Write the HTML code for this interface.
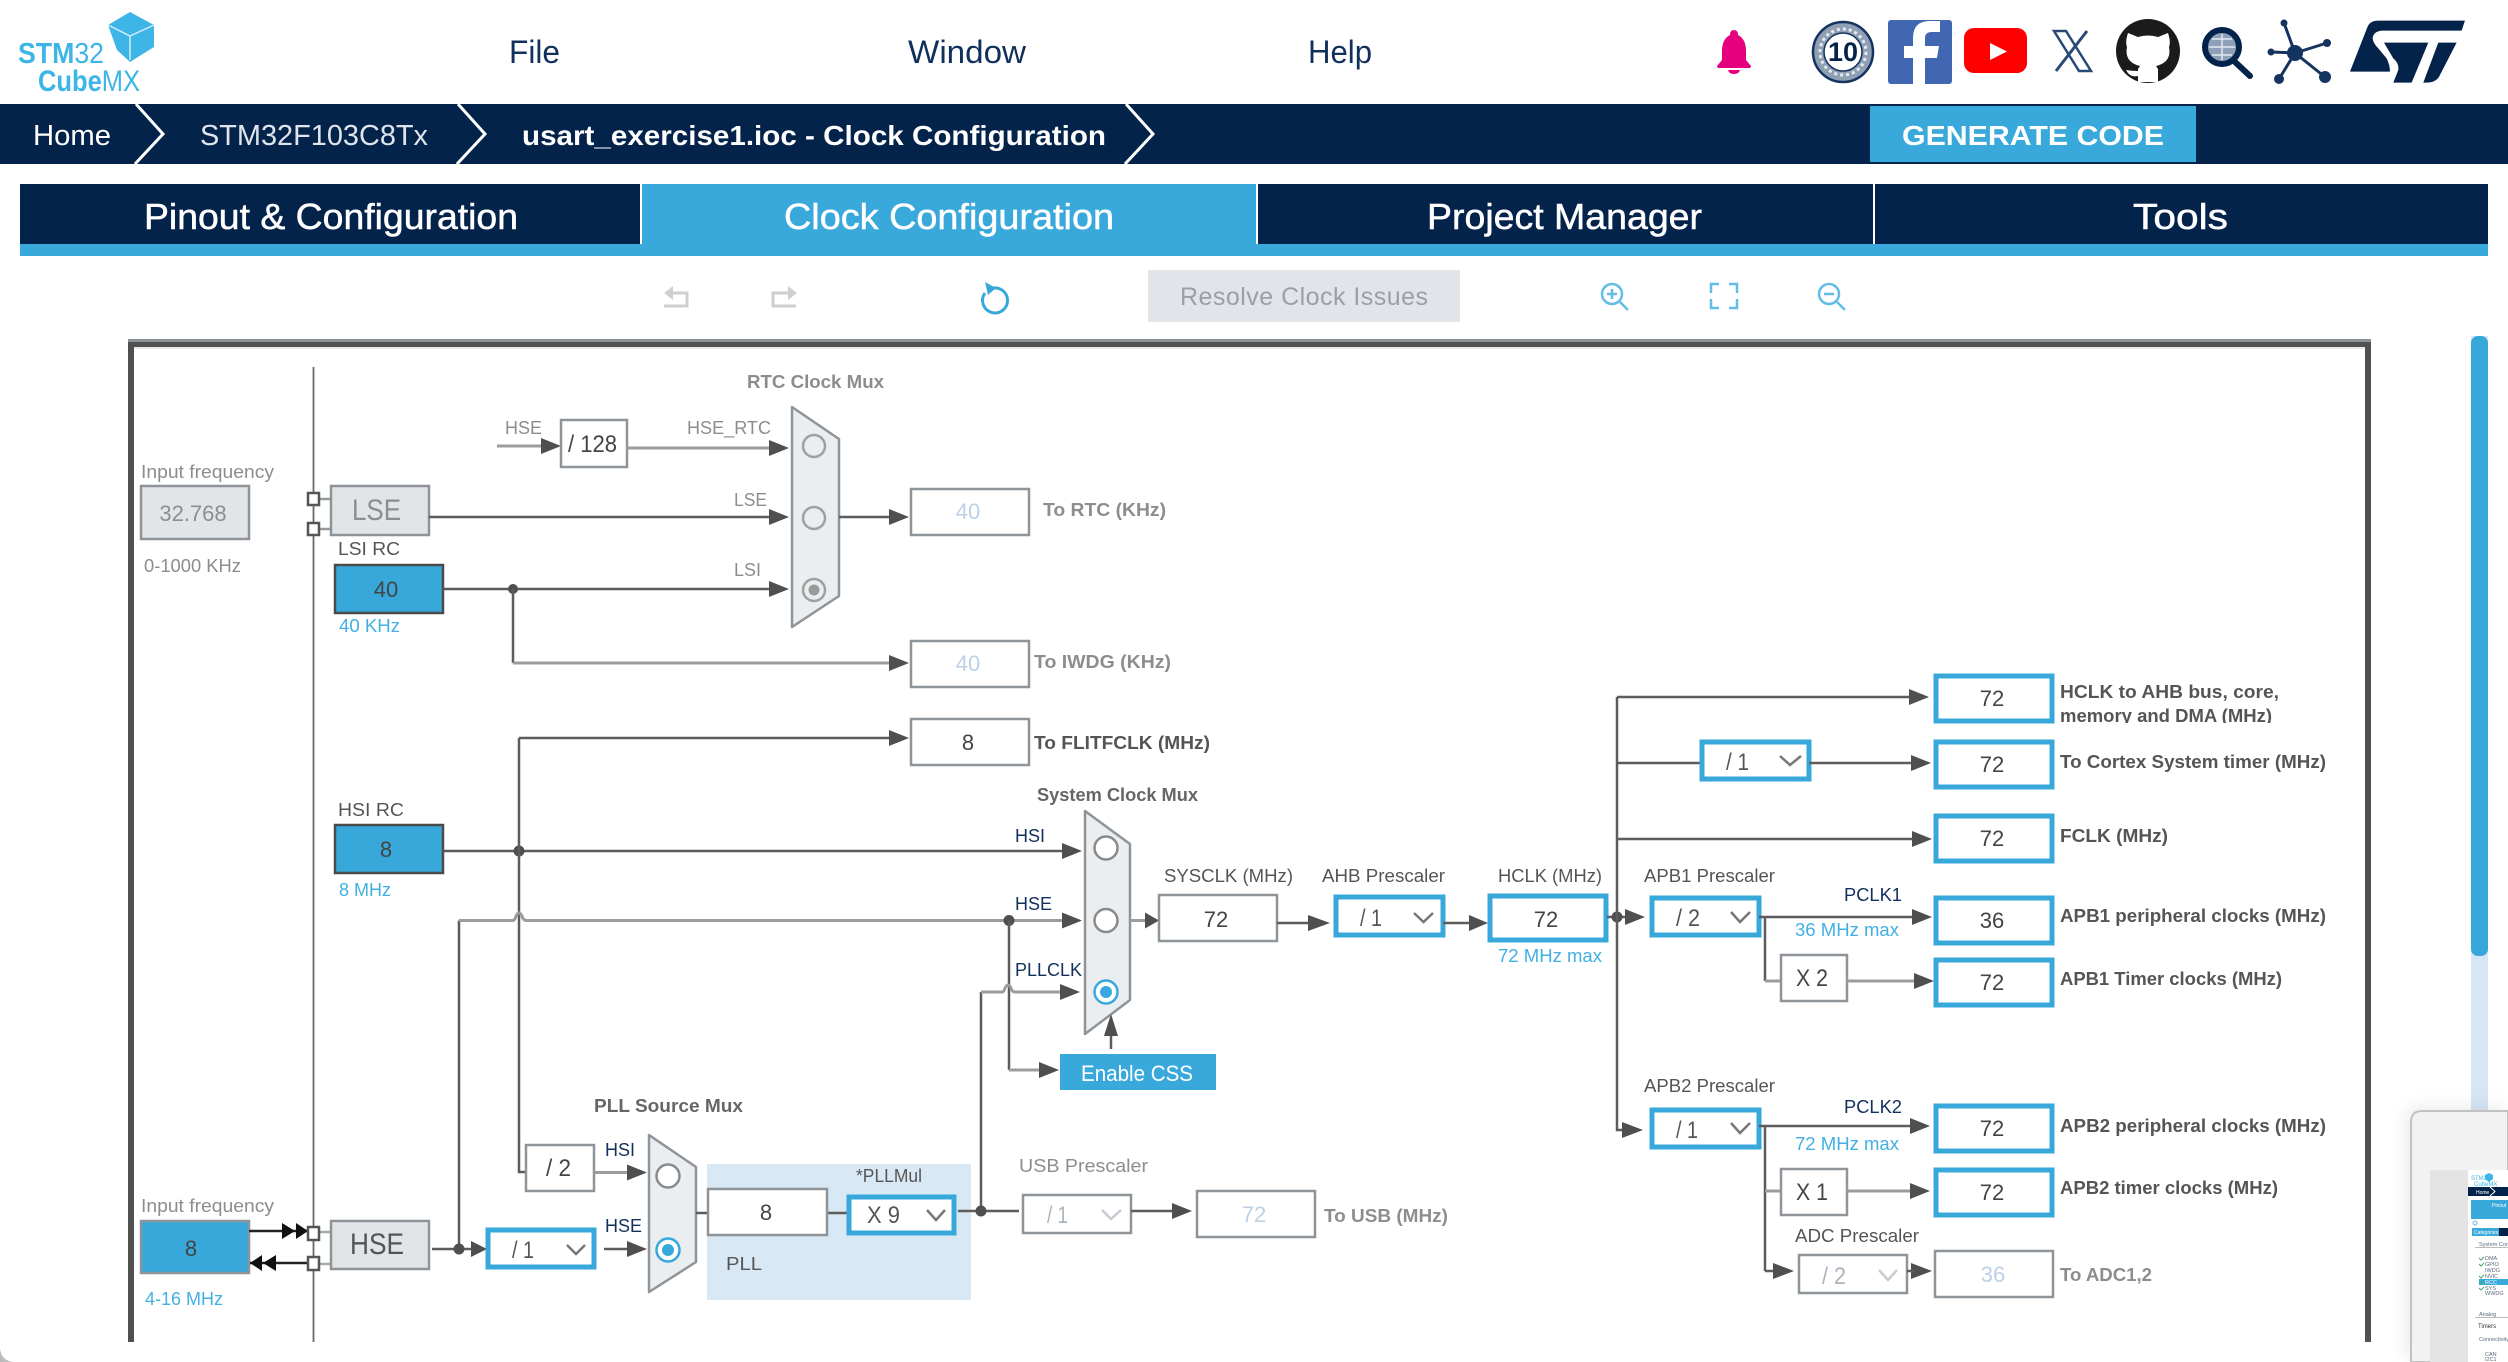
<!DOCTYPE html>
<html lang="en"><head><meta charset="utf-8"><title>STM32CubeMX Clock Configuration</title>
<style>
html,body{margin:0;padding:0;background:#fff;width:2508px;height:1362px;overflow:hidden}
svg{display:block;position:absolute;left:0;top:0}
text{font-family:"Liberation Sans",Arial,sans-serif}
.l{fill:none;stroke:#5c5c5c;stroke-width:2.5}
.g{fill:none;stroke:#9c9c9c;stroke-width:3}
.a{fill:#4f4f4f}
.k{fill:#101010}
.j{fill:#4f4f4f}
.bx{fill:#fff;stroke:#8f9499;stroke-width:2.5}
.sel{fill:#fff;stroke:#38a8db;stroke-width:5}
.ch{fill:none;stroke:#777;stroke-width:2.5}
.chl{fill:none;stroke:#c6ccd2;stroke-width:2.5}
.gr{fill:#e2e5e8;stroke:#8f9499;stroke-width:2.5}
.bl{fill:#38a8db;stroke:#4a4a4a;stroke-width:2.5}
.mux{fill:#ebeef1;stroke:#8f9499;stroke-width:2.5;stroke-linejoin:round}
.r{fill:#fff;stroke:#8a8a8a;stroke-width:2.5}
.rb{fill:#fff;stroke:#38a8db;stroke-width:2.5}
.lb{font-size:18px;fill:#8d8d8d}
.lk{font-size:18px;fill:#555}
.lb2{font-size:18px;fill:#8d8d8d;font-weight:700}
.lk2{font-size:18px;fill:#555;font-weight:700}
.nv{font-size:18px;fill:#12305c}
.bt{font-size:18px;fill:#42b0e2}
.v{font-size:22px;fill:#444;text-anchor:middle}
.vl{font-size:22px;fill:#bcd0e6;text-anchor:middle}
.vg{font-size:22px;fill:#8d8d8d;text-anchor:middle}
.s{font-size:24px;fill:#555}
.sl{font-size:24px;fill:#aab4bd}
.m{font-size:5.5px;fill:#5a6b80}
.tb{font-size:36px;fill:#fff;stroke:#fff;stroke-width:.5}
</style></head><body>
<svg width="2508" height="1362" viewBox="0 0 2508 1362" xmlns="http://www.w3.org/2000/svg">
<rect width="2508" height="1362" fill="#fff"/>

<!-- logo -->
<polygon points="130,12 154,25 154,47 130,62 117,50 108,25" fill="#3db5e6"/>
<path d="M108,25 L130,36 L154,25 M130,36 L130,60" fill="none" stroke="#cfeefa" stroke-width="1.5"/>
<text x="18" y="63" textLength="86" lengthAdjust="spacingAndGlyphs" font-size="29" fill="#3db5e6"><tspan font-weight="700">STM</tspan>32</text>
<text x="38" y="91" textLength="102" lengthAdjust="spacingAndGlyphs" font-size="30" fill="#3db5e6"><tspan font-weight="700">Cube</tspan>MX</text>

<!-- menu -->
<text x="509" y="63" textLength="51" lengthAdjust="spacingAndGlyphs" font-size="32" fill="#12305c">File</text>
<text x="908" y="63" textLength="118" lengthAdjust="spacingAndGlyphs" font-size="32" fill="#12305c">Window</text>
<text x="1308" y="63" textLength="64" lengthAdjust="spacingAndGlyphs" font-size="32" fill="#12305c">Help</text>

<!-- header icons -->
<path d="M1734,30 q4,0 4,5 q8,4 8,16 l0,9 l5,6 q0,2 -2,2 l-30,0 q-2,0 -2,-2 l5,-6 l0,-9 q0,-12 8,-16 q0,-5 4,-5z M1728,70 h12 q-1,4 -6,4 q-5,0 -6,-4z" fill="#e6007e"/>
<circle cx="1843" cy="52" r="30" fill="#8fa0b5" stroke="#14335f" stroke-width="2.5"/>
<circle cx="1843" cy="52" r="23" fill="none" stroke="#e7ebf0" stroke-width="3" stroke-dasharray="3 3"/>
<circle cx="1843" cy="52" r="19" fill="#fff" stroke="#14335f" stroke-width="1.5"/>
<text x="1843" y="61" text-anchor="middle" font-size="27" font-weight="700" fill="#04234b">10</text>
<rect x="1888" y="20" width="64" height="64" rx="3" fill="#4267b2"/>
<path d="M1925,84 V58 H1937 L1939,46 H1925 V38 Q1925,32 1932,32 H1940 V21 H1930 Q1913,21 1913,38 V46 H1904 V58 H1913 V84 Z" fill="#fff"/>
<rect x="1964" y="28" width="63" height="45" rx="10" fill="#ff0000"/>
<polygon points="1990,43 2007,51.5 1990,60" fill="#fff"/>
<path d="M2054,31 H2066 L2091,71 H2079 Z" fill="#fff" stroke="#2a4a75" stroke-width="2.5"/>
<path d="M2087,31 L2056,71" fill="none" stroke="#2a4a75" stroke-width="3"/>
<circle cx="2148" cy="51" r="32" fill="#1b1b1b"/>
<path d="M2128,33 L2138,37 Q2148,34 2158,37 L2168,33 Q2171,42 2169,47 Q2172,62 2156,66 L2158,69 V82 H2138 V76 Q2130,78 2126,70 Q2132,71 2138,71 L2138,69 L2140,66 Q2124,62 2127,47 Q2125,42 2128,33Z" fill="#fff"/>
<circle cx="2222" cy="47" r="17" fill="#8ea0b8" stroke="#04234b" stroke-width="6"/>
<path d="M2209,47 H2235 M2222,34 V60 M2212,39 H2232 M2212,55 H2232" stroke="#e4e9ef" stroke-width="1.5" fill="none"/>
<path d="M2234,61 L2250,76" stroke="#04234b" stroke-width="6" stroke-linecap="round"/>
<g stroke="#14335f" stroke-width="3"><path d="M2295,53 L2284,23 M2295,53 L2327,43 M2295,53 L2271,52 M2295,53 L2325,77 M2295,53 L2279,79"/></g>
<g fill="#14335f"><circle cx="2295" cy="53" r="8"/><circle cx="2284" cy="23" r="3.5"/><circle cx="2327" cy="43" r="4"/><circle cx="2271" cy="52" r="3.5"/><circle cx="2325" cy="77" r="6"/><circle cx="2279" cy="79" r="5"/></g>
<g transform="translate(2010,10) scale(.3333)" fill="#04234b">
<path d="M1020,185 L1072,52 Q1080,32 1105,32 L1365,32 L1355,62 L1115,62 Q1090,65 1088,85 Q1090,100 1105,115 L1130,145 Q1140,165 1140,185 Z"/>
<path d="M1122,98 L1255,98 L1205,218 L1150,218 L1165,180 Q1168,160 1150,145 Z"/>
<path d="M1285,98 L1340,98 L1290,195 Q1280,218 1250,218 L1240,218 Z"/>
</g>

<!-- breadcrumb -->
<rect x="0" y="104" width="2508" height="60" fill="#04234b"/>
<path d="M136,104 L163,134 L135,164 M458,104 L485,134 L457,164 M1126,104 L1153,134 L1125,164" fill="none" stroke="#fff" stroke-width="3"/>
<text x="33" y="145" textLength="78" lengthAdjust="spacingAndGlyphs" font-size="29" fill="#fff">Home</text>
<text x="200" y="145" textLength="228" lengthAdjust="spacingAndGlyphs" font-size="29" fill="#dfe5ec">STM32F103C8Tx</text>
<text x="522" y="145" textLength="584" lengthAdjust="spacingAndGlyphs" font-size="28" font-weight="700" fill="#fff">usart_exercise1.ioc - Clock Configuration</text>
<rect x="1870" y="106" width="326" height="56" fill="#39a9dc"/>
<text x="1902" y="145" textLength="262" lengthAdjust="spacingAndGlyphs" font-size="28" font-weight="700" fill="#fff">GENERATE CODE</text>

<!-- tabs -->
<rect x="20" y="184" width="2468" height="60" fill="#04234b"/>
<rect x="20" y="244" width="2468" height="12" fill="#39a9dc"/>
<rect x="642" y="184" width="614" height="60" fill="#39a9dc"/>
<rect x="640" y="184" width="2" height="60" fill="#fff"/><rect x="1256" y="184" width="2" height="60" fill="#fff"/><rect x="1873" y="184" width="2" height="60" fill="#fff"/>
<text x="144" y="229" textLength="374" lengthAdjust="spacingAndGlyphs" class="tb">Pinout &amp; Configuration</text>
<text x="784" y="229" textLength="330" lengthAdjust="spacingAndGlyphs" class="tb">Clock Configuration</text>
<text x="1427" y="229" textLength="275" lengthAdjust="spacingAndGlyphs" class="tb">Project Manager</text>
<text x="2133" y="229" textLength="95" lengthAdjust="spacingAndGlyphs" class="tb">Tools</text>

<!-- toolbar -->
<path d="M670,293 H687 V306 H664" fill="none" stroke="#cfcfcf" stroke-width="3"/><polygon points="664,293 673,286 673,300" fill="#cfcfcf"/>
<path d="M790,293 H773 V306 H796" fill="none" stroke="#cfcfcf" stroke-width="3"/><polygon points="797,293 788,286 788,300" fill="#cfcfcf"/>
<path d="M990,289 A12.5,12.5 0 1 1 985,293" fill="none" stroke="#38a8db" stroke-width="3"/><polygon points="985,282 996,288 988,295" fill="#38a8db"/>
<rect x="1148" y="270" width="312" height="52" fill="#e1e4e8"/>
<text x="1180" y="305" textLength="248" lengthAdjust="spacing" font-size="25" fill="#9aa0a6">Resolve Clock Issues</text>
<g fill="none" stroke="#62bde6" stroke-width="2.5">
<circle cx="1612" cy="294" r="10"/><path d="M1620,302 L1628,310 M1607,294 H1617 M1612,289 V299"/>
<path d="M1711,293 V284 H1719 M1729,284 H1737 V293 M1737,299 V308 H1729 M1719,308 H1711 V299"/>
<circle cx="1829" cy="294" r="10"/><path d="M1837,302 L1845,310 M1824,294 H1834"/>
</g>

<!-- frame -->
<rect x="128" y="339" width="2243" height="3" fill="#8c9296"/>
<rect x="128" y="342" width="2243" height="5" fill="#4f5355"/>
<rect x="134" y="347" width="2231" height="2" fill="#e9e9e9"/>
<rect x="128" y="342" width="6" height="1000" fill="#505050"/>
<rect x="2365" y="342" width="6" height="1000" fill="#505050"/>
<path d="M313.5,367 V1342" stroke="#6a6a6a" stroke-width="1.8" fill="none"/>

<!-- scrollbar -->
<rect x="2471" y="336" width="17" height="780" fill="#d6e6f5"/>
<rect x="2471" y="336" width="17" height="620" rx="7" fill="#38a8db"/>

<!-- left column -->
<text x="141" y="478" textLength="133" lengthAdjust="spacingAndGlyphs" class="lb">Input frequency</text>
<rect x="141" y="486" width="108" height="53" class="gr"/>
<text x="193" y="521" class="vg">32.768</text>
<text x="144" y="572" textLength="97" lengthAdjust="spacingAndGlyphs" class="lb">0-1000 KHz</text>
<path d="M319,499 H331 M319,529 H331" stroke="#999" stroke-width="2.5"/>
<rect x="308" y="493" width="11" height="12" class="bx" style="stroke:#555"/>
<rect x="308" y="523" width="11" height="12" class="bx" style="stroke:#555"/>
<rect x="331" y="486" width="98" height="49" class="gr"/>
<text x="352" y="520" textLength="49" lengthAdjust="spacingAndGlyphs" font-size="30" fill="#8d8d8d">LSE</text>
<text x="338" y="555" textLength="62" lengthAdjust="spacingAndGlyphs" class="lk">LSI RC</text>
<rect x="335" y="565" width="108" height="48" class="bl"/>
<text x="386" y="597" class="v">40</text>
<text x="339" y="632" textLength="61" lengthAdjust="spacingAndGlyphs" class="bt">40 KHz</text>

<!-- RTC section -->
<text x="505" y="434" textLength="37" lengthAdjust="spacingAndGlyphs" class="lb">HSE</text>
<path d="M497,446 H545" class="g"/><polygon points="541,438 561,446 541,454" class="a"/>
<rect x="561" y="420" width="66" height="47" class="bx"/>
<text x="568" y="452" textLength="49" lengthAdjust="spacingAndGlyphs" font-size="24" fill="#444">/ 128</text>
<path d="M627,448 H772" class="g"/><polygon points="769,440 789,448 769,456" class="a"/>
<text x="687" y="434" textLength="84" lengthAdjust="spacingAndGlyphs" class="lb">HSE_RTC</text>
<text x="747" y="388" textLength="137" lengthAdjust="spacingAndGlyphs" class="lb2">RTC Clock Mux</text>
<polygon points="792,407 839,439 839,596 792,627" class="mux"/>
<circle cx="814" cy="446" r="11" class="r" style="fill:#ebeef1;stroke:#a0a0a0"/>
<circle cx="814" cy="518" r="11" class="r" style="fill:#ebeef1;stroke:#a0a0a0"/>
<circle cx="814" cy="590" r="11" class="r" style="fill:#ebeef1;stroke:#a0a0a0"/><circle cx="814" cy="590" r="5.5" fill="#9a9a9a"/>
<path d="M429,517 H772" class="l"/><polygon points="769,509 789,517 769,525" class="a"/>
<text x="734" y="506" textLength="33" lengthAdjust="spacingAndGlyphs" class="lb">LSE</text>
<path d="M443,589 H772" class="l"/><polygon points="769,581 789,589 769,597" class="a"/>
<text x="734" y="576" textLength="27" lengthAdjust="spacingAndGlyphs" class="lb">LSI</text>
<circle cx="513" cy="589" r="5" class="j"/>
<path d="M513,589 V663" class="l"/><path d="M513,663 H892" class="g"/><polygon points="889,655 909,663 889,671" class="a"/>
<path d="M839,517 H892" class="l"/><polygon points="889,509 909,517 889,525" class="a"/>
<rect x="911" y="489" width="118" height="46" class="bx"/><text x="968" y="519" class="vl">40</text>
<text x="1043" y="516" textLength="123" lengthAdjust="spacingAndGlyphs" class="lb2">To RTC (KHz)</text>
<rect x="911" y="641" width="118" height="46" class="bx"/><text x="968" y="671" class="vl">40</text>
<text x="1034" y="668" textLength="137" lengthAdjust="spacingAndGlyphs" class="lb2">To IWDG (KHz)</text>
<rect x="911" y="719" width="118" height="46" class="bx"/><text x="968" y="750" class="v">8</text>
<text x="1034" y="749" textLength="176" lengthAdjust="spacingAndGlyphs" class="lk2">To FLITFCLK (MHz)</text>
<path d="M519,738 H892" class="l"/><polygon points="889,730 909,738 889,746" class="a"/>

<!-- HSI -->
<text x="338" y="816" textLength="66" lengthAdjust="spacingAndGlyphs" class="lk">HSI RC</text>
<rect x="335" y="825" width="108" height="48" class="bl"/>
<text x="386" y="857" class="v">8</text>
<text x="339" y="896" textLength="52" lengthAdjust="spacingAndGlyphs" class="bt">8 MHz</text>
<path d="M443,851 H1065" class="l"/><polygon points="1062,843 1082,851 1062,859" class="a"/>
<circle cx="519" cy="851" r="5.5" class="j"/>
<path d="M519,738 V1172 H528" class="l"/>
<!-- HSE bus -->
<path d="M459,1249 V920.5" class="l"/>
<path d="M459,920.5 H513 Q515,920 516,916 Q519,910 522,916 Q523,920 526,920.5 H1065" class="g"/>
<polygon points="1062,912.5 1082,920.5 1062,928.5" class="a"/>
<circle cx="1009" cy="920.5" r="5.5" class="j"/>
<path d="M1009,920.5 V1070" class="l"/>
<path d="M1009,1070 H1042" class="g"/><polygon points="1039,1062 1059,1070 1039,1078" class="a"/>
<rect x="1060" y="1054" width="156" height="36" fill="#39a9dc"/>
<text x="1081" y="1081" textLength="112" lengthAdjust="spacingAndGlyphs" font-size="22" fill="#fff">Enable CSS</text>
<path d="M1111,1049 V1032" class="l"/>

<!-- system mux -->
<text x="1037" y="801" textLength="161" lengthAdjust="spacingAndGlyphs" class="lk" style="font-weight:700;fill:#666">System Clock Mux</text>
<polygon points="1085,811 1130,844 1130,1000 1085,1034" class="mux"/>
<circle cx="1106" cy="848" r="11.5" class="r"/>
<circle cx="1106" cy="920.5" r="11.5" class="r"/>
<circle cx="1106" cy="992" r="11.5" class="rb"/><circle cx="1106" cy="992" r="6" fill="#38a8db"/>
<polygon points="1104,1036 1111,1014 1118,1036" class="a"/>
<text x="1015" y="842" textLength="30" lengthAdjust="spacingAndGlyphs" class="nv">HSI</text>
<text x="1015" y="910" textLength="37" lengthAdjust="spacingAndGlyphs" class="nv">HSE</text>
<text x="1015" y="976" textLength="67" lengthAdjust="spacingAndGlyphs" class="nv">PLLCLK</text>
<path d="M981,1211 V992" class="l"/>
<path d="M981,992 H1002 Q1004,992 1005,988 Q1008,982 1011,988 Q1012,992 1015,992 H1063" class="g"/>
<polygon points="1060,984 1080,992 1060,1000" class="a"/>
<path d="M1130,920.5 H1148" class="g"/><polygon points="1145,912.5 1159,920.5 1145,928.5" class="a"/>
<rect x="1159" y="895" width="118" height="46" class="bx"/><text x="1216" y="927" class="v">72</text>
<text x="1164" y="882" textLength="129" lengthAdjust="spacingAndGlyphs" class="lk">SYSCLK (MHz)</text>
<path d="M1277,923 H1312" class="l"/><polygon points="1308,915 1330,923 1308,931" class="a"/>
<text x="1322" y="882" textLength="123" lengthAdjust="spacingAndGlyphs" class="lk">AHB Prescaler</text>
<rect x="1336" y="897" width="107" height="38" class="sel"/>
<text x="1360" y="926" textLength="22" lengthAdjust="spacingAndGlyphs" class="s">/ 1</text>
<path d="M1414,913 L1423.5,922 L1433,913" class="ch"/>
<path d="M1443,923 H1472" class="l"/><polygon points="1469,915 1488,923 1469,931" class="a"/>
<rect x="1490" y="896" width="116" height="44" class="sel"/><text x="1546" y="927" class="v">72</text>
<text x="1498" y="882" textLength="104" lengthAdjust="spacingAndGlyphs" class="lk">HCLK (MHz)</text>
<text x="1498" y="962" textLength="104" lengthAdjust="spacingAndGlyphs" class="bt">72 MHz max</text>
<path d="M1607,917 H1628" class="l"/><circle cx="1617" cy="917" r="5.5" class="j"/>
<polygon points="1625,909 1645,917 1625,925" class="a"/>
<path d="M1617,697 V1130 H1626" class="l"/>

<!-- right outputs -->
<path d="M1617,697 H1912" class="l"/><polygon points="1909,689 1929,697 1909,705" class="a"/>
<rect x="1936" y="676" width="116" height="45" class="sel"/><text x="1992" y="706" class="v">72</text>
<clipPath id="c1"><rect x="2055" y="670" width="300" height="53"/></clipPath>
<g clip-path="url(#c1)">
<text x="2060" y="698" textLength="219" lengthAdjust="spacingAndGlyphs" class="lk2">HCLK to AHB bus, core,</text>
<text x="2060" y="722" textLength="212" lengthAdjust="spacingAndGlyphs" class="lk2">memory and DMA (MHz)</text>
</g>
<path d="M1617,763 H1702" class="l"/>
<rect x="1702" y="742" width="107" height="37" class="sel"/>
<text x="1726" y="770" textLength="23" lengthAdjust="spacingAndGlyphs" class="s">/ 1</text>
<path d="M1780,756 L1790,765 L1801,756" class="ch"/>
<path d="M1809,763 H1914" class="l"/><polygon points="1911,755 1931,763 1911,771" class="a"/>
<rect x="1936" y="742" width="116" height="45" class="sel"/><text x="1992" y="772" class="v">72</text>
<text x="2060" y="768" textLength="266" lengthAdjust="spacingAndGlyphs" class="lk2">To Cortex System timer (MHz)</text>
<path d="M1617,839 H1915" class="l"/><polygon points="1912,831 1932,839 1912,847" class="a"/>
<rect x="1936" y="816" width="116" height="45" class="sel"/><text x="1992" y="846" class="v">72</text>
<text x="2060" y="842" textLength="108" lengthAdjust="spacingAndGlyphs" class="lk2">FCLK (MHz)</text>

<!-- APB1 -->
<text x="1644" y="882" textLength="131" lengthAdjust="spacingAndGlyphs" class="lk">APB1 Prescaler</text>
<rect x="1652" y="898" width="107" height="37" class="sel"/>
<text x="1676" y="926" textLength="24" lengthAdjust="spacingAndGlyphs" class="s">/ 2</text>
<path d="M1731,912 L1740,922 L1750,912" class="ch"/>
<path d="M1759,917 H1915" class="l"/><polygon points="1912,909 1932,917 1912,925" class="a"/>
<text x="1844" y="901" textLength="58" lengthAdjust="spacingAndGlyphs" class="nv">PCLK1</text>
<text x="1795" y="936" textLength="104" lengthAdjust="spacingAndGlyphs" class="bt">36 MHz max</text>
<rect x="1936" y="898" width="116" height="45" class="sel"/><text x="1992" y="928" class="v">36</text>
<text x="2060" y="922" textLength="266" lengthAdjust="spacingAndGlyphs" class="lk2">APB1 peripheral clocks (MHz)</text>
<path d="M1765,917 V981" class="l"/><path d="M1765,981 H1781" class="g"/>
<rect x="1781" y="955" width="66" height="46" class="bx"/>
<text x="1796" y="986" textLength="32" lengthAdjust="spacingAndGlyphs" font-size="24" fill="#444">X 2</text>
<path d="M1847,981 H1917" class="g"/><polygon points="1914,973 1934,981 1914,989" class="a"/>
<rect x="1936" y="960" width="116" height="45" class="sel"/><text x="1992" y="990" class="v">72</text>
<text x="2060" y="985" textLength="222" lengthAdjust="spacingAndGlyphs" class="lk2">APB1 Timer clocks (MHz)</text>

<!-- APB2 -->
<text x="1644" y="1092" textLength="131" lengthAdjust="spacingAndGlyphs" class="lk">APB2 Prescaler</text>
<polygon points="1622,1122 1643,1130 1622,1138" class="a"/>
<rect x="1652" y="1110" width="107" height="37" class="sel"/>
<text x="1676" y="1138" textLength="22" lengthAdjust="spacingAndGlyphs" class="s">/ 1</text>
<path d="M1731,1123 L1740,1133 L1750,1123" class="ch"/>
<path d="M1759,1126 H1913" class="l"/><polygon points="1910,1118 1930,1126 1910,1134" class="a"/>
<text x="1844" y="1113" textLength="58" lengthAdjust="spacingAndGlyphs" class="nv">PCLK2</text>
<text x="1795" y="1150" textLength="104" lengthAdjust="spacingAndGlyphs" class="bt">72 MHz max</text>
<rect x="1936" y="1106" width="116" height="45" class="sel"/><text x="1992" y="1136" class="v">72</text>
<text x="2060" y="1132" textLength="266" lengthAdjust="spacingAndGlyphs" class="lk2">APB2 peripheral clocks (MHz)</text>
<path d="M1765,1126 V1271" class="l"/><path d="M1765,1191 H1781" class="g"/>
<rect x="1781" y="1169" width="66" height="46" class="bx"/>
<text x="1796" y="1200" textLength="32" lengthAdjust="spacingAndGlyphs" font-size="24" fill="#444">X 1</text>
<path d="M1847,1191 H1913" class="g"/><polygon points="1910,1183 1930,1191 1910,1199" class="a"/>
<rect x="1936" y="1170" width="116" height="45" class="sel"/><text x="1992" y="1200" class="v">72</text>
<text x="2060" y="1194" textLength="218" lengthAdjust="spacingAndGlyphs" class="lk2">APB2 timer clocks (MHz)</text>
<text x="1795" y="1242" textLength="124" lengthAdjust="spacingAndGlyphs" class="lk">ADC Prescaler</text>
<path d="M1765,1271 H1776" class="l"/><polygon points="1773,1263 1794,1271 1773,1279" class="a"/>
<rect x="1799" y="1255" width="108" height="38" class="bx"/>
<text x="1822" y="1284" textLength="24" lengthAdjust="spacingAndGlyphs" class="sl">/ 2</text>
<path d="M1879,1270 L1888,1280 L1897,1270" class="chl"/>
<polygon points="1911,1263 1932,1271 1911,1279" class="a"/><path d="M1907,1271 H1914" class="l"/>
<rect x="1935" y="1251" width="118" height="46" class="bx"/><text x="1993" y="1282" class="vl">36</text>
<text x="2060" y="1281" textLength="92" lengthAdjust="spacingAndGlyphs" class="lb2">To ADC1,2</text>

<!-- bottom left -->
<text x="141" y="1212" textLength="133" lengthAdjust="spacingAndGlyphs" class="lb">Input frequency</text>
<rect x="141" y="1221" width="108" height="52" fill="#38a8db" stroke="#8f9499" stroke-width="2.5"/>
<text x="191" y="1256" class="v">8</text>
<text x="145" y="1305" textLength="78" lengthAdjust="spacingAndGlyphs" class="bt">4-16 MHz</text>
<path d="M249,1231 H307 M250,1263 H307" stroke="#222" stroke-width="2.5"/>
<polygon points="282,1223 295,1231 282,1239" class="k"/><polygon points="296,1223 308,1231 296,1239" class="k"/>
<polygon points="262,1255 250,1263 262,1271" class="k"/><polygon points="276,1255 263,1263 276,1271" class="k"/>
<path d="M319,1232 H331 M319,1264 H331" stroke="#aaa" stroke-width="2.5"/>
<rect x="308" y="1227" width="11" height="13" class="bx" style="stroke:#555"/>
<rect x="308" y="1257" width="11" height="13" class="bx" style="stroke:#555"/>
<rect x="331" y="1221" width="98" height="48" class="gr"/>
<text x="350" y="1254" textLength="54" lengthAdjust="spacingAndGlyphs" font-size="30" fill="#555">HSE</text>
<path d="M432,1249 H474" class="l"/><circle cx="459" cy="1249" r="5.5" class="j"/>
<polygon points="471,1241 487,1249 471,1257" class="a"/>
<rect x="488" y="1230" width="106" height="37" class="sel"/>
<text x="512" y="1258" textLength="22" lengthAdjust="spacingAndGlyphs" class="s">/ 1</text>
<path d="M567,1245 L576,1254 L585,1245" class="ch"/>
<rect x="526" y="1145" width="68" height="46" class="bx"/>
<text x="546" y="1176" textLength="25" lengthAdjust="spacingAndGlyphs" font-size="24" fill="#444">/ 2</text>
<path d="M594,1172.5 H630" class="g"/><polygon points="627,1164.5 647,1172.5 627,1180.5" class="a"/>
<path d="M604,1249 H630" class="l"/><polygon points="627,1241 647,1249 627,1257" class="a"/>
<text x="605" y="1156" textLength="30" lengthAdjust="spacingAndGlyphs" class="nv">HSI</text>
<text x="605" y="1232" textLength="37" lengthAdjust="spacingAndGlyphs" class="nv">HSE</text>
<text x="594" y="1112" textLength="149" lengthAdjust="spacingAndGlyphs" class="lk" style="font-weight:700;fill:#666">PLL Source Mux</text>
<polygon points="649,1135 696,1167 696,1262 649,1292" class="mux"/>
<circle cx="668" cy="1176" r="11.5" class="r"/>
<circle cx="668" cy="1250" r="11.5" class="rb"/><circle cx="668" cy="1250" r="6" fill="#38a8db"/>
<rect x="707" y="1164" width="264" height="136" fill="#d9e8f5"/>
<path d="M696,1213 H708 M827,1213 H847" class="l"/>
<rect x="708" y="1189" width="119" height="46" class="bx"/><text x="766" y="1220" class="v">8</text>
<rect x="849" y="1197" width="105" height="36" class="sel"/>
<text x="867" y="1223" textLength="33" lengthAdjust="spacingAndGlyphs" class="s">X 9</text>
<path d="M927,1210 L936,1220 L945,1210" class="ch"/>
<text x="856" y="1182" textLength="66" lengthAdjust="spacingAndGlyphs" class="lk">*PLLMul</text>
<text x="726" y="1270" textLength="36" lengthAdjust="spacingAndGlyphs" class="lk">PLL</text>
<path d="M958,1211 H1019" class="l"/><circle cx="981" cy="1211" r="5.5" class="j"/>

<!-- USB -->
<text x="1019" y="1172" textLength="129" lengthAdjust="spacingAndGlyphs" class="lb">USB Prescaler</text>
<rect x="1023" y="1195" width="108" height="38" class="bx"/>
<text x="1047" y="1223" textLength="21" lengthAdjust="spacingAndGlyphs" class="sl">/ 1</text>
<path d="M1102,1210 L1111,1219 L1121,1210" class="chl"/>
<path d="M1131,1211 H1175" class="l"/><polygon points="1172,1203 1192,1211 1172,1219" class="a"/>
<rect x="1197" y="1191" width="118" height="46" class="bx"/><text x="1254" y="1222" class="vl">72</text>
<text x="1324" y="1222" textLength="124" lengthAdjust="spacingAndGlyphs" class="lb2">To USB (MHz)</text>

<!-- preview window -->
<path d="M2422,1111 H2508 V1362 H2411 V1122 Q2411,1111 2422,1111Z" fill="#f2f2f2" stroke="#c2c2c2" stroke-width="2" style="filter:drop-shadow(-4px -3px 8px rgba(0,0,0,.08))"/>
<rect x="2430" y="1170" width="38" height="192" fill="#e3e3e3"/>
<rect x="2468" y="1170" width="40" height="192" fill="#fff"/>
<text x="2471" y="1180" font-size="6" fill="#3db5e6">STM32</text>
<text x="2474" y="1186" font-size="6" fill="#3db5e6">CubeMX</text>
<polygon points="2489,1173 2493,1175 2493,1179 2489,1182 2485,1179 2485,1175" fill="#3db5e6"/>
<rect x="2468" y="1187" width="40" height="9" fill="#04234b"/>
<path d="M2490,1187 L2495,1191.5 L2490,1196" fill="none" stroke="#fff" stroke-width="1"/>
<text x="2476" y="1194" font-size="5" fill="#fff">Home</text>
<rect x="2471" y="1200" width="37" height="19" fill="#39a9dc"/>
<text x="2492" y="1207" font-size="5" fill="#fff">Pinout</text>
<circle cx="2475" cy="1223" r="2" fill="none" stroke="#62bde6"/>
<rect x="2472" y="1228" width="27" height="8" fill="#39a9dc"/><rect x="2499" y="1228" width="9" height="8" fill="#04234b"/>
<text x="2474" y="1234" font-size="5" fill="#fff">Categories</text>
<text x="2479" y="1246" class="m">System Core</text>
<rect x="2475" y="1247" width="33" height="1" fill="#bbb"/>
<rect x="2479" y="1279" width="29" height="6" fill="#39a9dc"/>
<path d="M2479,1258 l2,2 l3,-3 M2479,1264 l2,2 l3,-3 M2479,1276 l2,2 l3,-3 M2479,1282 l2,2 l3,-3 M2479,1288 l2,2 l3,-3" fill="none" stroke="#4aa86a" stroke-width="1"/>
<text x="2485" y="1260" class="m">DMA</text><text x="2485" y="1266" class="m">GPIO</text><text x="2485" y="1272" class="m">IWDG</text><text x="2485" y="1278" class="m">NVIC</text><text x="2485" y="1284" font-size="5.5" fill="#fff">RCC</text><text x="2485" y="1290" class="m">SYS</text><text x="2485" y="1295" class="m">WWDG</text>
<text x="2479" y="1316" class="m">Analog</text>
<rect x="2475" y="1317" width="33" height="1" fill="#bbb"/>
<text x="2478" y="1328" font-size="6" fill="#333">Timers</text>
<text x="2479" y="1341" class="m">Connectivity</text>
<text x="2485" y="1356" class="m">CAN</text><text x="2485" y="1361" class="m">I2C1</text>

<!-- window corner -->
<path d="M0,1348 Q1,1361 14,1362 L0,1362 Z" fill="#bdbdbd"/>
</svg>
</body></html>
